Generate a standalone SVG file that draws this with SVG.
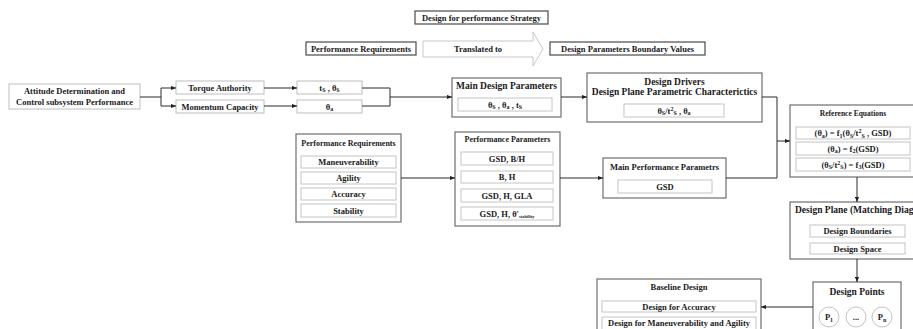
<svg xmlns="http://www.w3.org/2000/svg" width="913" height="329" viewBox="0 0 913 329">
<defs>
<marker id="ah" viewBox="0 0 6 6" refX="6" refY="3" markerWidth="5" markerHeight="5" orient="auto" markerUnits="userSpaceOnUse">
<path d="M0,0.5 L6,3 L0,5.5 z" fill="#222"/>
</marker>
<style>
text{font-family:"Liberation Serif","Times New Roman",serif;font-weight:bold;fill:#1a1a1a;text-anchor:middle;font-size:8.5px}
.t95{font-size:9.5px}
.t8{font-size:8px}
.t75{font-size:7.5px}
.outer{fill:#fff;stroke:#6e6e6e;stroke-width:1.2}
.inner{fill:#fff;stroke:#c4c4c4;stroke-width:1}
.lbl{fill:#fff;stroke:#4a4a4a;stroke-width:1.2}
.sm{fill:#fff;stroke:#bdbdbd;stroke-width:1}
.con{fill:none;stroke:#2a2a2a;stroke-width:1}
.sub{font-size:6px}
</style>
</defs>
<rect width="913" height="329" fill="#fff"/>

<g id="strategy">
<rect class="lbl" x="415" y="11" width="133" height="13"/>
<text x="481.5" y="20.5">Design for performance Strategy</text>
</g>
<g id="perf-req-label">
<rect class="lbl" x="306" y="42" width="110" height="13"/>
<text x="361" y="51.5">Performance Requirements</text>
</g>
<g id="translated">
<path d="M423,41 H533 V32 L543,49 L533,66 V57 H423 Z" fill="#fff" stroke="#c8c8c8" stroke-width="1"/>
<text x="478" y="52">Translated to</text>
</g>
<g id="boundary-label">
<rect class="lbl" x="550" y="42" width="155" height="13"/>
<text x="627.5" y="51.5">Design Parameters Boundary Values</text>
</g>

<g id="adcs">
<rect class="sm" x="9" y="84" width="131" height="25"/>
<text x="74.5" y="94">Attitude Determination and</text>
<text x="74.5" y="105">Control subsystem Performance</text>
</g>
<g id="torque">
<rect class="sm" x="176" y="81" width="88" height="13"/>
<text x="220" y="90.5">Torque Authority</text>
</g>
<g id="momentum">
<rect class="sm" x="176" y="100" width="88" height="13"/>
<text x="220" y="109.5">Momentum Capacity</text>
</g>
<g id="ts">
<rect class="sm" x="297" y="81" width="65" height="13"/>
<text x="329.5" y="90.5">t<tspan class="sub" dy="1.5">S</tspan><tspan dy="-1.5"> , θ</tspan><tspan class="sub" dy="1.5">S</tspan></text>
</g>
<g id="theta-a">
<rect class="sm" x="297" y="100" width="65" height="13"/>
<text x="329.5" y="109.5">θ<tspan class="sub" dy="1.5">a</tspan></text>
</g>

<g id="main-design">
<rect class="outer" x="452" y="78" width="109" height="39"/>
<text class="t95" x="506.5" y="89">Main Design Parameters</text>
<rect class="inner" x="458" y="98" width="94" height="13"/>
<text x="505" y="107.5">θ<tspan class="sub" dy="1.5">S</tspan><tspan dy="-1.5"> , θ</tspan><tspan class="sub" dy="1.5">a</tspan><tspan dy="-1.5"> , t</tspan><tspan class="sub" dy="1.5">S</tspan></text>
</g>

<g id="drivers">
<rect class="outer" x="587" y="73" width="175" height="49"/>
<text class="t95" x="674.5" y="85">Design Drivers</text>
<text class="t95" x="674.5" y="95">Design Plane Parametric Characterictics</text>
<rect class="inner" x="624" y="104" width="100" height="13"/>
<text x="674" y="113.5">θ<tspan class="sub" dy="1.5">S</tspan><tspan dy="-1.5">/t</tspan><tspan class="sub" dy="-3">2</tspan><tspan class="sub" dy="4.5">S</tspan><tspan dy="-1.5"> , θ</tspan><tspan class="sub" dy="1.5">a</tspan></text>
</g>

<g id="perf-req">
<rect class="outer" x="296" y="134" width="105" height="88"/>
<text class="t8" x="348.5" y="146">Performance Requirements</text>
<rect class="inner" x="301" y="156" width="95" height="12"/>
<text x="348.5" y="165">Maneuverability</text>
<rect class="inner" x="301" y="172" width="95" height="12"/>
<text x="348.5" y="181">Agility</text>
<rect class="inner" x="301" y="188" width="95" height="12"/>
<text x="348.5" y="197">Accuracy</text>
<rect class="inner" x="301" y="204" width="95" height="13"/>
<text x="348.5" y="213.5">Stability</text>
</g>

<g id="perf-params">
<rect class="outer" x="455" y="132" width="105" height="94"/>
<text class="t8" x="507.5" y="142">Performance Parameters</text>
<rect class="inner" x="461" y="152" width="92" height="13"/>
<text x="507" y="161.5">GSD, B/H</text>
<rect class="inner" x="461" y="171" width="92" height="12"/>
<text x="507" y="180">B, H</text>
<rect class="inner" x="461" y="189" width="92" height="13"/>
<text x="507" y="198.5">GSD, H, GLA</text>
<rect class="inner" x="461" y="207" width="92" height="13"/>
<text x="507" y="216.5">GSD, H, θ'<tspan font-size="4.5" dy="1.5">stability</tspan></text>
</g>

<g id="main-perf">
<rect class="outer" x="603" y="158" width="123" height="40"/>
<text x="664.5" y="170">Main Performance Parametrs</text>
<rect class="inner" x="618" y="180" width="94" height="13"/>
<text x="665" y="189.5">GSD</text>
</g>

<g id="ref-eq">
<rect class="outer" x="790" y="105" width="130" height="72"/>
<text class="t75" x="853" y="116">Reference Equations</text>
<rect class="inner" x="796" y="127" width="114" height="12"/>
<text x="853" y="136">(θ<tspan class="sub" dy="1.5">a</tspan><tspan dy="-1.5">) = f</tspan><tspan class="sub" dy="1.5">1</tspan><tspan dy="-1.5">(θ</tspan><tspan class="sub" dy="1.5">S</tspan><tspan dy="-1.5">/t</tspan><tspan class="sub" dy="-3">2</tspan><tspan class="sub" dy="4.5">S</tspan><tspan dy="-1.5"> , GSD)</tspan></text>
<rect class="inner" x="796" y="142" width="114" height="13"/>
<text x="853" y="151.5">(θ<tspan class="sub" dy="1.5">a</tspan><tspan dy="-1.5">) = f</tspan><tspan class="sub" dy="1.5">2</tspan><tspan dy="-1.5">(GSD)</tspan></text>
<rect class="inner" x="796" y="158" width="114" height="13"/>
<text x="853" y="167.5">(θ<tspan class="sub" dy="1.5">S</tspan><tspan dy="-1.5">/t</tspan><tspan class="sub" dy="-3">2</tspan><tspan class="sub" dy="4.5">S</tspan><tspan dy="-1.5">) = f</tspan><tspan class="sub" dy="1.5">3</tspan><tspan dy="-1.5">(GSD)</tspan></text>
</g>

<g id="design-plane">
<rect class="outer" x="790" y="202" width="130" height="57"/>
<text class="t95" x="795" y="213" style="text-anchor:start">Design Plane (Matching Diagram)</text>
<rect class="inner" x="810" y="225" width="95" height="12"/>
<text x="857.5" y="234">Design Boundaries</text>
<rect class="inner" x="810" y="243" width="95" height="11"/>
<text x="857.5" y="251.5">Design Space</text>
</g>

<g id="design-points">
<rect class="outer" x="813" y="282" width="88" height="55"/>
<text class="t95" x="857" y="295">Design Points</text>
<circle class="inner" cx="829" cy="317" r="10"/>
<text x="829" y="320">P<tspan class="sub" dy="1.5">1</tspan></text>
<circle class="inner" cx="856" cy="317" r="10"/>
<text x="856" y="320">...</text>
<circle class="inner" cx="882" cy="317" r="10"/>
<text x="882" y="320">P<tspan class="sub" dy="1.5">n</tspan></text>
</g>

<g id="baseline">
<rect class="outer" x="597" y="279" width="164" height="58"/>
<text x="679" y="290">Baseline Design</text>
<rect class="inner" x="602" y="301" width="154" height="11"/>
<text x="679" y="309.5">Design for Accuracy</text>
<rect class="inner" x="602" y="317" width="154" height="14"/>
<text x="679" y="326">Design for Maneuverability and Agility</text>
</g>

<g id="connectors">
<path class="con" d="M140,97 H161 M161,88 V106"/>
<path class="con" d="M161,88 H176" marker-end="url(#ah)"/>
<path class="con" d="M161,106 H176" marker-end="url(#ah)"/>
<path class="con" d="M264,88 H297" marker-end="url(#ah)"/>
<path class="con" d="M264,106 H297" marker-end="url(#ah)"/>
<path class="con" d="M362,88 H390 V106 H362"/>
<path class="con" d="M390,97 H452" marker-end="url(#ah)"/>
<path class="con" d="M561,97 H587" marker-end="url(#ah)"/>
<path class="con" d="M762,97 H777 V178 H726"/>
<path class="con" d="M777,141 H790" marker-end="url(#ah)"/>
<path class="con" d="M401,178 H455" marker-end="url(#ah)"/>
<path class="con" d="M560,178 H603" marker-end="url(#ah)"/>
<path class="con" d="M857,177 V202" marker-end="url(#ah)"/>
<path class="con" d="M857,259 V282" marker-end="url(#ah)"/>
<path class="con" d="M813,307 H761" marker-end="url(#ah)"/>
</g>
</svg>
